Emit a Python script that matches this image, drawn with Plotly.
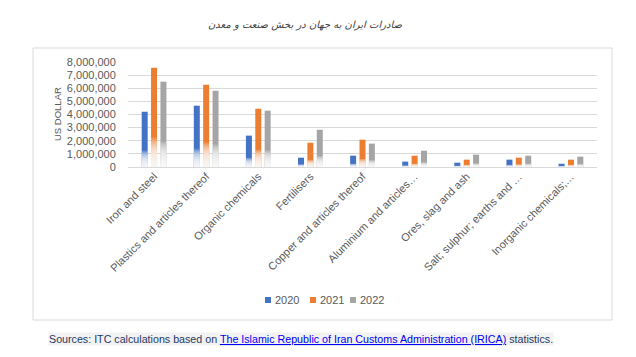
import plotly.graph_objects as go

categories = [
    "Iron and steel",
    "Plastics and articles thereof",
    "Organic chemicals",
    "Fertilisers",
    "Copper and articles thereof",
    "Aluminium and articles…",
    "Ores, slag and ash",
    "Salt; sulphur; earths and …",
    "Inorganic chemicals;…",
]
values_2020 = [4210000, 4670000, 2390000, 710000, 860000, 410000, 330000, 560000, 250000]
values_2021 = [7560000, 6270000, 4440000, 1850000, 2080000, 860000, 560000, 710000, 560000]
values_2022 = [6500000, 5810000, 4290000, 2840000, 1780000, 1240000, 940000, 860000, 790000]
years = ["2020", "2021", "2022"]
colors = ["#4472C4", "#ED7D31", "#A5A5A5"]
y_ticks = [0, 1000000, 2000000, 3000000, 4000000, 5000000, 6000000, 7000000, 8000000]

title_text = "صادرات ایران به جهان در بخش صنعت و معدن"
source_prefix = "Sources: ITC calculations based on "
source_link = "The Islamic Republic of Iran Customs Administration (IRICA)"
source_suffix = " statistics."

FONT = "Liberation Sans, Arial, sans-serif"
OFF = 8  # page body margin of the html page
W, H = 636 - OFF, 357 - OFF
# plot area in page pixels: x 128..597, y 62..167
PL, PR, PT, PB = 128, 597, 62, 167
L, T = PL - OFF, PT - OFF
R, B = W - (PR - OFF), H - (PB - OFF)
pw, ph = PR - PL, PB - PT


def px_x(x):
    return (x - PL) / pw


def px_y(y):
    return (PB - y) / ph


fig = go.Figure()
series = [values_2020, values_2021, values_2022]
fade_frac = 0.3
n_fade = 24
for yr, vals, col in zip(years, series, colors):
    fig.add_trace(go.Bar(
        x=categories, y=vals, name=yr, offsetgroup=yr, showlegend=False,
        marker=dict(color=col, line=dict(width=0)),
    ))
    for j in range(1, n_fade + 1):
        fig.add_trace(go.Bar(
            x=categories, y=[v * fade_frac * j / n_fade for v in vals],
            offsetgroup=yr, showlegend=False, hoverinfo="skip",
            marker=dict(color="rgba(255,255,255,0.12)", line=dict(width=0)),
        ))

fig.update_layout(
    width=W, height=H,
    margin=dict(l=L, r=R, t=T, b=B, autoexpand=False),
    paper_bgcolor="white", plot_bgcolor="white",
    barmode="group", bargap=0.46, bargroupgap=0.36,
    font=dict(family=FONT, size=11, color="#595959"),
    showlegend=False,
    xaxis=dict(
        tickangle=-45, showgrid=False, showline=False, ticks="", automargin=False,
        tickfont=dict(size=11, color="#595959"),
    ),
    yaxis=dict(
        range=[0, 8000000], tickvals=y_ticks, tickformat=",d", automargin=False,
        showgrid=True, gridcolor="#D9D9D9", gridwidth=1,
        zeroline=True, zerolinecolor="#D9D9D9", zerolinewidth=1,
        ticks="outside", ticklen=9, tickcolor="rgba(0,0,0,0)",
        tickfont=dict(size=11, color="#595959"),
    ),
)

fig.add_shape(
    type="rect", xref="paper", yref="paper",
    x0=px_x(33), x1=px_x(612), y0=px_y(320), y1=px_y(48),
    line=dict(color="#D9D9D9", width=1), fillcolor="rgba(0,0,0,0)", layer="below",
)

# custom legend
legend_x = [265, 310, 350]
for yr, col, lx in zip(years, colors, legend_x):
    fig.add_shape(
        type="rect", xref="paper", yref="paper",
        x0=px_x(lx), x1=px_x(lx + 6), y0=px_y(303), y1=px_y(297),
        line=dict(width=0), fillcolor=col,
    )
    fig.add_annotation(
        text=yr, xref="paper", yref="paper", x=px_x(lx + 8), y=px_y(300),
        xanchor="left", yanchor="middle", showarrow=False,
        font=dict(size=11, color="#595959"),
    )

fig.add_annotation(
    text=title_text, xref="paper", yref="paper", x=px_x(305), y=px_y(25),
    showarrow=False, xanchor="center", yanchor="middle",
    font=dict(family="DejaVu Sans, Noto Sans, sans-serif", size=10, color="#404040", style="italic"),
)
fig.add_annotation(
    text="US DOLLAR", xref="paper", yref="paper", x=px_x(57), y=px_y(114),
    textangle=-90, showarrow=False, xanchor="center", yanchor="middle",
    font=dict(family=FONT, size=9.5, color="#595959"),
)
fig.add_annotation(
    text=(source_prefix
          + "<a href='https://www.irica.ir' style='color:#0000EE'><u>" + source_link + "</u></a>"
          + source_suffix),
    xref="paper", yref="paper", x=px_x(48), y=px_y(339),
    xanchor="left", yanchor="middle", showarrow=False,
    bgcolor="#F2F2F2", borderpad=0,
    font=dict(family=FONT, size=10.7, color="#1F3864"),
)

fig.write_html("out.html")
